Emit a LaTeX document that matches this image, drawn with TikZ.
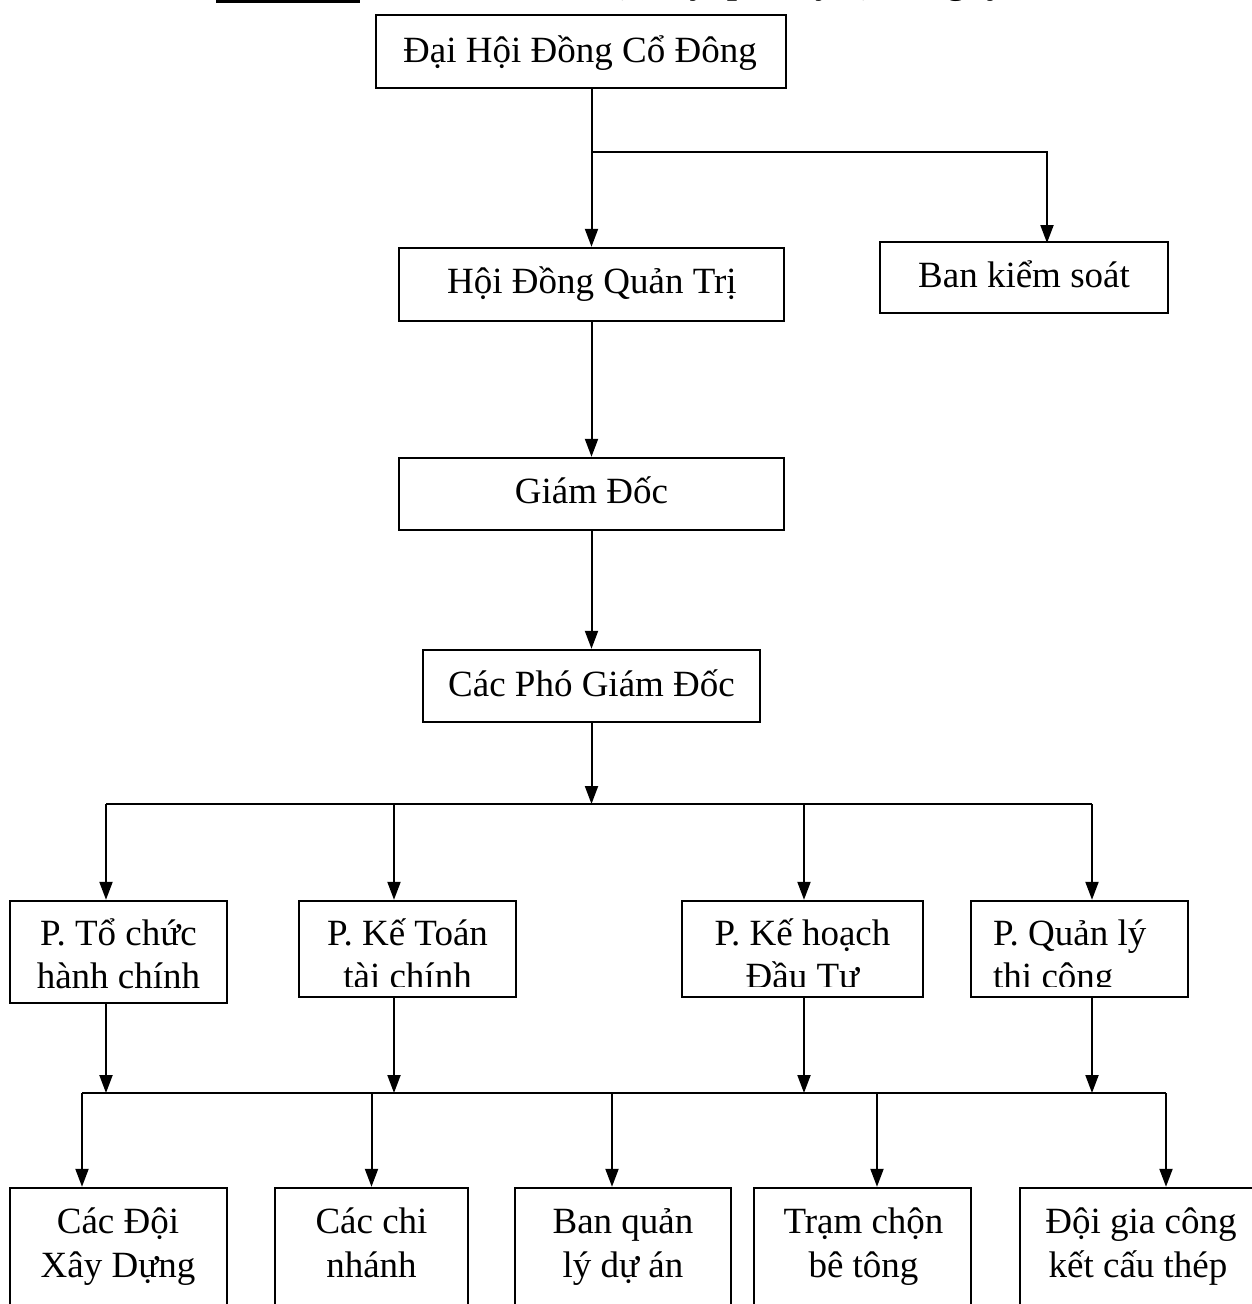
\documentclass[tikz,border=0pt]{standalone}
\usepackage{fontspec}
\setmainfont{Liberation Serif}
\usetikzlibrary{arrows.meta}
\newcommand\boxfont{\fontsize{37}{43}\selectfont}
\newcommand\titlefont{\fontsize{36.5}{43}\selectfont\bfseries}
\begin{document}
\begin{tikzpicture}[x=1pt,y=-1pt,
  box/.style={draw, line width=2.4pt, inner sep=0pt},
  txt/.style={font=\boxfont, inner sep=0pt, anchor=base},
  txtl/.style={font=\boxfont, inner sep=0pt, anchor=base west},
  link/.style={line width=2pt},
  arr/.style={link, -{Triangle[length=18pt,width=13pt]}}]
\useasboundingbox (0,0) rectangle (1251,1304);

% heading (only its lowest part falls on the page)
\fill (216,-6) rectangle (360,3);
\node[font=\titlefont, inner sep=0pt, anchor=base east] (title) at (1005,-7)
  {Cơ cấu tổ chức bộ máy quản lý tại công ty};

% upper chain
\node[box, minimum width=410, minimum height=73] (dhcd) at (581,51.5) {};
\node[txt] (dhcdT) at (580,62) {Đại Hội Đồng Cổ Đông};

\node[box, minimum width=385, minimum height=73] (hdqt) at (591.5,284.5) {};
\node[txt] (hdqtT) at (592,293) {Hội Đồng Quản Trị};

\node[box, minimum width=288, minimum height=71] (bks) at (1024,277.5) {};
\node[txt] (bksT) at (1024,287) {Ban kiểm soát};

\node[box, minimum width=385, minimum height=72] (gd) at (591.5,494) {};
\node[txt] (gdT) at (591.5,503) {Giám Đốc};

\node[box, minimum width=337, minimum height=72] (cpgd) at (591.5,686) {};
\node[txt] (cpgdT) at (591.5,696) {Các Phó Giám Đốc};

% departments
\node[box, minimum width=217, minimum height=102] (p1) at (118.5,952) {};
\node[box, minimum width=217, minimum height=96] (p2) at (407.5,949) {};
\node[box, minimum width=241, minimum height=96] (p3) at (802.5,949) {};
\node[box, minimum width=217, minimum height=96] (p4) at (1079.5,949) {};

\node[txt] (p1a) at (118.5,945) {P. Tổ chức};
\node[txt] (p1b) at (118.5,988) {hành chính};
\begin{scope}
  \clip (290,890) rectangle (1200,986);
  \node[txt] (p2a) at (407.5,945) {P. Kế Toán};
  \node[txt] (p2b) at (407.5,988) {tài chính};
  \node[txt] (p3a) at (802.5,945) {P. Kế hoạch};
  \node[txt] (p3b) at (802.5,988) {Đầu Tư};
  \node[txtl] (p4a) at (993,945) {P. Quản lý};
  \node[txtl] (p4b) at (993,988) {thi công};
\end{scope}

% units
\node[box, minimum width=217, minimum height=142] (r1) at (118.5,1259) {};
\node[box, minimum width=193, minimum height=142] (r2) at (371.5,1259) {};
\node[box, minimum width=216, minimum height=142] (r3) at (623,1259) {};
\node[box, minimum width=217, minimum height=142] (r4) at (862.5,1259) {};
\node[box, minimum width=242, minimum height=142] (r5) at (1141,1259) {};

\node[txt] (r1a) at (118,1233) {Các Đội};
\node[txt] (r1b) at (118,1277) {Xây Dựng};
\node[txt] (r2a) at (371.5,1233) {Các chi};
\node[txt] (r2b) at (371.5,1277) {nhánh};
\node[txt] (r3a) at (623,1233) {Ban quản};
\node[txt] (r3b) at (623,1277) {lý dự án};
\node[txt] (r4a) at (863.5,1233) {Trạm chộn};
\node[txt] (r4b) at (863.5,1277) {bê tông};
\node[txt] (r5a) at (1141,1233) {Đội gia công};
\node[txt] (r5b) at (1138,1277) {kết cấu thép};

% connectors of the upper chain
\coordinate (split) at (591.5,152);
\coordinate (bksin) at (1047,243);
\draw[arr] (hdqt.north |- dhcd.south) -- (hdqt.north);
\draw[arr] (split) -| (bksin);
\draw[arr] (hdqt.south) -- (gd.north);
\draw[arr] (gd.south) -- (cpgd.north);

% first bus: deputies to departments
\coordinate (busA) at (106,804);
\coordinate (busB) at (1092,804);
\coordinate (tapB) at (394,804);
\coordinate (tapC) at (804,804);
\draw[arr] (cpgd.south) -- (cpgd.south |- busA);
\draw[link] (busA) -- (busB);
\draw[arr] (busA) -- (busA |- p1.north);
\draw[arr] (tapB) -- (tapB |- p2.north);
\draw[arr] (tapC) -- (tapC |- p3.north);
\draw[arr] (busB) -- (busB |- p4.north);

% second bus: departments to units
\coordinate (busC) at (82,1093);
\coordinate (busD) at (1166,1093);
\coordinate (tapR3) at (612,1093);
\coordinate (tapR4) at (877,1093);
\draw[arr] (busA |- p1.south) -- (busA |- busC);
\draw[arr] (tapB |- p2.south) -- (tapB |- busC);
\draw[arr] (tapC |- p3.south) -- (tapC |- busC);
\draw[arr] (busB |- p4.south) -- (busB |- busC);
\draw[link] (busC) -- (busD);
\draw[arr] (busC) -- (busC |- r1.north);
\draw[arr] (r2.north |- busC) -- (r2.north);
\draw[arr] (tapR3) -- (tapR3 |- r3.north);
\draw[arr] (tapR4) -- (tapR4 |- r4.north);
\draw[arr] (busD) -- (busD |- r5.north);
\end{tikzpicture}
\end{document}
